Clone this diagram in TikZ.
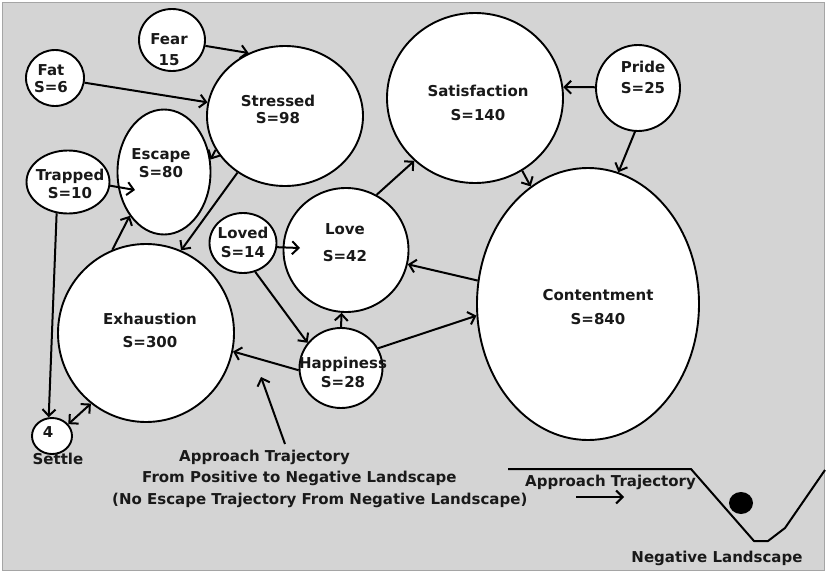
\documentclass[tikz,border=0pt]{standalone}
\usepackage{fontspec}
\setmainfont{DejaVu Sans}
\usetikzlibrary{shapes.geometric,arrows.meta}
\definecolor{bg}{RGB}{212,212,212}
\definecolor{rim}{RGB}{165,165,165}
\definecolor{ink}{RGB}{25,25,25}
\begin{document}
\begin{tikzpicture}[x=1pt,y=-1pt,
  >={Straight Barb[length=6.5pt,width=13pt]},
  st/.style={ellipse, draw=black, fill=white, line width=1.9pt, inner sep=0pt},
  lbl/.style={font=\fontsize{15}{18}\selectfont\bfseries, align=center, inner sep=0pt, text=ink},
  conn/.style={line width=2pt, ->},
]
\useasboundingbox (0,0) rectangle (828,573);
% panel
\fill[white] (0,0) rectangle (828,573);
\filldraw[fill=bg, draw=rim, line width=1pt] (2.5,2.5) rectangle (824.5,570.5);

% states
\node[st, minimum width=66pt,  minimum height=62pt]  (fear)     at (172,40)  {};
\node[st, minimum width=58pt,  minimum height=56pt]  (fat)      at (55,78)   {};
\node[st, minimum width=156pt, minimum height=140pt] (stressed) at (285,116) {};
\node[st, minimum width=93pt,  minimum height=125pt] (escape)   at (164,172) {};
\node[st, minimum width=83pt,  minimum height=63pt]  (trapped)  at (68,182)  {};
\node[st, minimum width=176pt, minimum height=170pt] (satis)    at (475,98)  {};
\node[st, minimum width=84pt,  minimum height=86pt]  (pride)    at (638,88)  {};
\node[st, minimum width=222pt, minimum height=272pt] (content)  at (588,304) {};
\node[st, minimum width=125pt, minimum height=124pt] (love)     at (346,250) {};
\node[st, minimum width=67pt,  minimum height=60pt]  (loved)    at (243,243) {};
\node[st, minimum width=176pt, minimum height=178pt] (exhaust)  at (146,333) {};
\node[st, minimum width=83pt,  minimum height=80pt]  (happy)    at (341,368) {};
\node[st, minimum width=40pt,  minimum height=36pt]  (settle)   at (52,436)  {};

% free ends
\coordinate (escIn)     at (135,190);
\coordinate (loveIn)    at (300,248);
\coordinate (appTail)   at (285,444);
\coordinate (appHead)   at (261,377);
\coordinate (slideTail) at (576,497);
\coordinate (slideHead) at (624,497);

% transitions
\draw[conn] (fear.-10)     -- (stressed.120);
\draw[conn] (fat.-9)       -- (stressed.170);
\draw[conn] (stressed.206) -- (escape.15);
\draw[conn] (trapped.-5)   -- (escIn);
\draw[conn] (stressed.230) -- (exhaust.67);
\draw[conn] (exhaust.112)  -- (escape.232);
\draw[conn] (trapped.250)  -- (settle.100);
\draw[conn, <->] (settle.36) -- (exhaust.232);
\draw[conn] (loved.-7)     -- (loveIn);
\draw[conn] (loved.-67)    -- (happy.143);
\draw[conn] (happy.90)     -- (love.-94);
\draw[conn] (happy.183)    -- (exhaust.-12);
\draw[conn] (happy.28)     -- (content.186);
\draw[conn] (content.168)  -- (love.-13);
\draw[conn] (love.61)      -- (satis.226);
\draw[conn] (satis.-57)    -- (content.116);
\draw[conn] (pride.179)    -- (satis.7);
\draw[conn] (pride.-94)    -- (content.77);
\draw[conn] (appTail)      -- (appHead);
\draw[conn] (slideTail)    -- (slideHead);

% state labels
\node[lbl] (fearT)     at (169,50)  {Fear\\[3pt]15};
\node[lbl] (fatT)      at (51,79)   {Fat\\[-1pt]S=6};
\node[lbl] (stressedT) at (278,109) {Stressed\\[-1pt]S=98};
\node[lbl] (escapeT)   at (161,163) {Escape\\S=80};
\node[lbl] (trappedT)  at (70,184)  {Trapped\\S=10};
\node[lbl] (satisT)    at (478,103) {Satisfaction\\[6pt]S=140};
\node[lbl] (prideT)    at (643,77)  {Pride\\[3pt]S=25};
\node[lbl] (contentT)  at (598,307) {Contentment\\[6pt]S=840};
\node[lbl] (loveT)     at (345,243) {Love\\[9pt]S=42};
\node[lbl] (lovedT)    at (243,242) {Loved\\[1pt]S=14};
\node[lbl] (happyT)    at (343,372) {Happiness\\[1pt]S=28};
\node[lbl] (exhaustT)  at (150,330) {Exhaustion\\[5pt]S=300};
\node[lbl] (settleN)   at (48,432)  {4};
\node[lbl] (settleT)   at (58,459)  {Settle};

% caption under the graph
\node[lbl, anchor=base west] (appr1) at (179,461) {Approach Trajectory};
\node[lbl, anchor=base west] (appr2) at (142,482) {From Positive to Negative Landscape};
\node[lbl, anchor=base west] (appr3) at (112,504) {(No Escape Trajectory From Negative Landscape)};

% landscape sketch
\draw[line width=2pt, line join=round] (508,469) -- (691,469) -- (754,541) -- (768,541) -- (785,528) -- (825,470);
\fill[black] (741,503) ellipse [x radius=12pt, y radius=11pt];
\node[lbl, anchor=base west] (slideT) at (525,486) {Approach Trajectory};
\node[lbl] (negT) at (717,558) {Negative Landscape};
\end{tikzpicture}
\end{document}
